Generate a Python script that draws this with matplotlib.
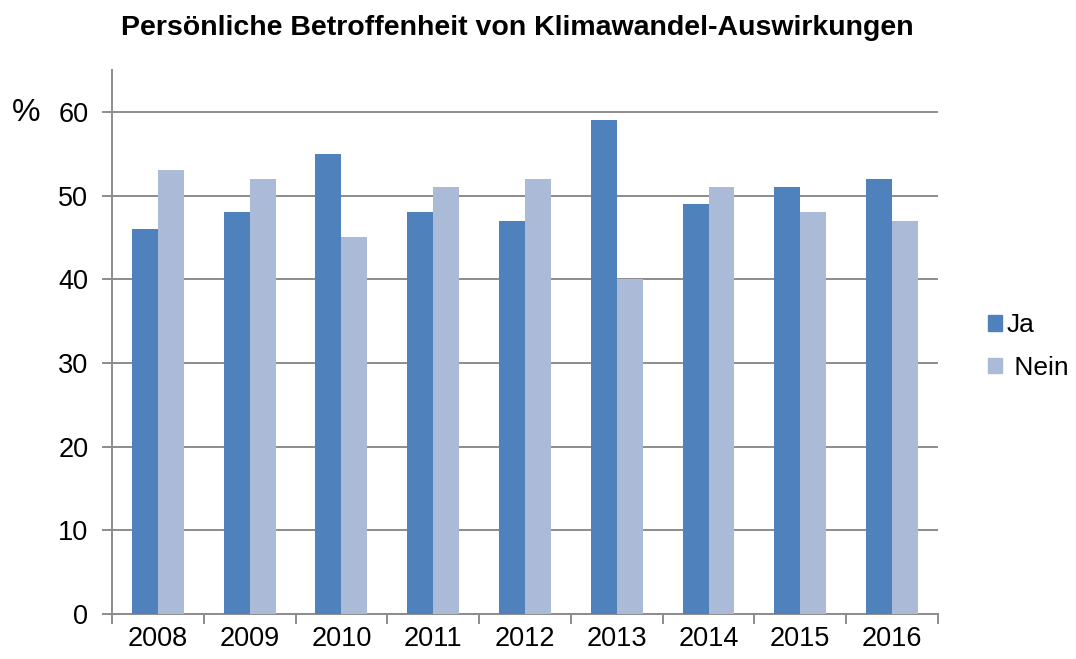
import matplotlib.pyplot as plt
import numpy as np
from matplotlib.patches import Patch

years = ["2008", "2009", "2010", "2011", "2012", "2013", "2014", "2015", "2016"]
ja = [46, 48, 55, 48, 47, 59, 49, 51, 52]
nein = [53, 52, 45, 51, 52, 40, 51, 48, 47]

plt.rcParams["font.family"] = ["Liberation Sans", "DejaVu Sans"]

fig = plt.figure(figsize=(10.76, 6.59), dpi=100)
ax = fig.add_axes([0.1041, 0.0683, 0.7676, 0.8255])

x = np.arange(len(years)) + 0.5
w = 0.283
ax.bar(x - w / 2, ja, width=w, color="#4F81BD", zorder=3)
ax.bar(x + w / 2, nein, width=w, color="#AABAD7", zorder=3)

ax.set_xlim(0, len(years))
ax.set_ylim(0, 65)
ax.set_yticks(range(0, 61, 10))
ax.yaxis.grid(True, color="#8C8C8C", linewidth=1.4, zorder=0)
for s in ["top", "right"]:
    ax.spines[s].set_visible(False)
for s in ["left", "bottom"]:
    ax.spines[s].set_color("#8C8C8C")
    ax.spines[s].set_linewidth(1.4)

ax.set_xticks(np.arange(len(years) + 1))
ax.set_xticklabels([])
ax.set_xticks(x, minor=True)
ax.set_xticklabels(years, minor=True)
ax.tick_params(axis="x", which="major", length=7, width=1.4, color="#8C8C8C", direction="out")
ax.tick_params(axis="x", which="minor", length=0, labelsize=19.5, pad=9)
ax.tick_params(axis="y", length=7, width=1.4, color="#8C8C8C", labelsize=19.5, pad=10)

fig.text(0.0112, 0.829, "%", fontsize=23, ha="left", va="center")
fig.suptitle("Persönliche Betroffenheit von Klimawandel-Auswirkungen",
             fontsize=20.5, fontweight="bold", x=0.481, y=0.957, va="center")

handles = [Patch(color="#4F81BD"), Patch(color="#AABAD7")]
fig.legend(handles, ["Ja", " Nein"], loc="center left", bbox_to_anchor=(0.8964, 0.474),
           frameon=False, fontsize=19, handlelength=0.52, handleheight=0.55,
           handletextpad=0.18, labelspacing=0.7)

fig.savefig("out.png", dpi=100)
